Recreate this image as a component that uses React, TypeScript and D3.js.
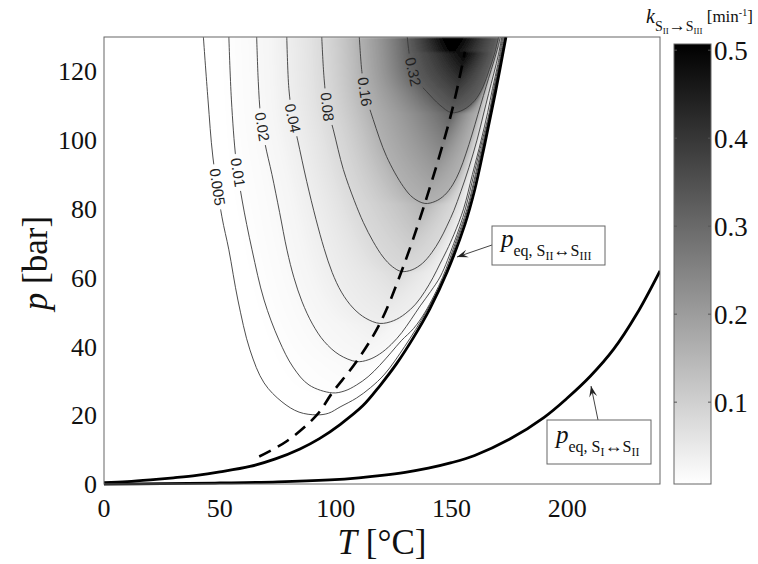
import React, { useEffect, useRef, useState } from 'react';
import * as d3 from 'd3';

type Pt = [number, number];

// ---------- data ----------
const T_TICKS = [0, 50, 100, 150, 200];
const P_TICKS = [0, 20, 40, 60, 80, 100, 120];
const CB_TICKS = [0.1, 0.2, 0.3, 0.4, 0.5];
const LEVELS = [0.005, 0.01, 0.02, 0.04, 0.08, 0.16, 0.32];
const LEVEL_LABELS = ['0.005', '0.01', '0.02', '0.04', '0.08', '0.16', '0.32'];
const LABEL_P = [86.4, 90.6, 103.9, 106.4, 109.7, 114.1, 119.9];

// contour lines [T, p]: left branch from the top, bottom, right branch up
const C_0005: Pt[] = [[42.9,130],[44.9,111.7],[47.0,95.1],[50.9,77.7],[53.9,68.1],[57.8,53.5],[63.0,39.0],[69.1,29.4],[76.8,23.9],[84.2,20.9],[91.9,20.1],[97,20.6],[101.9,22.4],[109,25],[115,28],[121.2,32],[129.8,40],[139,50],[146.6,60],[152.1,70],[157.1,80],[160.7,90],[164.2,100],[166.8,108],[168.75,115],[170.9,122],[173.2,130]];
const C_001: Pt[] = [[53.9,130],[55.0,111.7],[57.0,94.2],[59.6,82.6],[63.9,68.1],[69.1,53.5],[75.5,41.9],[81.6,34.0],[88.5,28.8],[98.5,26.5],[104,27.1],[109,28.8],[114,31.2],[119,34.5],[124,38.3],[128.5,41.8],[133.6,45.2],[138.6,50],[146.1,60],[151.6,70],[156.7,80],[160.3,90],[163.8,100],[166.6,108],[168.5,115],[170.7,122],[172.9,130]];
const C_002: Pt[] = [[65.9,130],[66.6,117],[67.6,107],[69.5,99],[72.5,90],[75.8,79],[79,68],[82,60],[85.5,53],[90,46.5],[95,41.5],[101.5,37.6],[109,35.6],[114,36.1],[119,37.8],[124,40.6],[128.5,44],[132.5,47.8],[136.5,51.8],[141,56],[145.3,60.5],[151.0,70],[156,80],[159.65,90],[163.3,100],[166.3,108],[168.2,115],[170.4,122],[172.5,130]];
const C_004: Pt[] = [[78.9,130],[79.8,115],[81.3,107],[83.6,100],[87.5,88],[91.5,77],[95,68.5],[98.5,61.5],[102.5,55.8],[107.5,51.2],[113,48.2],[119.1,46.7],[125,47.5],[130,49.5],[134.5,52.3],[138.5,56],[142,60],[145,64],[148,68],[151,72.5],[155.2,80],[159,90],[162.8,100],[165.6,108],[167.7,115],[170,122],[172.1,130]];
const C_008: Pt[] = [[94,130],[95,118],[96.4,109.7],[99,103],[103.3,91.5],[108,82.5],[112,76],[116.2,70.5],[120.5,66],[124.5,63.2],[128.4,61.8],[133,62.3],[137.5,64.2],[141.5,67.3],[145,71],[148,75],[151,79.5],[154,85],[157.5,92],[161,100],[163.6,107],[166,113.5],[168.3,119.5],[170.3,125],[171.7,130]];
const C_016: Pt[] = [[110.2,130],[111.3,120],[112.6,114.1],[116.2,106],[122,95.2],[129.2,86.5],[133.5,83.2],[138.5,81.6],[143,82.2],[147,84],[150.5,87],[153.5,91],[156.2,96],[158.8,101.5],[161.4,107.5],[163.8,113],[166,118],[168.3,123],[170.2,127.5],[171.1,130]];
const C_032: Pt[] = [[130.9,130],[132,124],[133.4,119.9],[136,116.6],[139.3,114.1],[145,110.2],[150,108],[155,108.8],[160,111.5],[163.6,115.5],[166.3,120.5],[168.5,125],[170.3,130]];
const CONTOURS: Pt[][] = [C_0005, C_001, C_002, C_004, C_008, C_016, C_032];

// equilibrium pressure curves [T, p]
const EQ_S2_S3: Pt[] = [[0,0.4],[10,0.7],[20,1.2],[30,1.8],[40,2.5],[50,3.5],[63,5.1],[74,7.3],[84.6,10.2],[93,13.2],[101.9,17.3],[111.8,22.8],[119,28.5],[126.3,35],[133.5,42.5],[140.7,51],[148,61.5],[155.8,75.5],[160,85.5],[164.4,99],[169,114],[173.5,130]];
const EQ_S1_S2: Pt[] = [[0,0],[25,0.1],[50,0.3],[75,0.6],[97.5,1.2],[110,1.8],[120,2.5],[130,3.4],[140,4.6],[150,6.2],[160,8.3],[175,13.0],[190,19.4],[200,25.0],[210,31.4],[220,39.2],[230,49.5],[240,62]];
// locus of maximum rate (dashed)
const K_MAX_LINE: Pt[] = [[67,8],[79,12.5],[91.9,20.1],[98.5,26.5],[109,35.6],[119.1,46.7],[128.4,61.8],[138.5,81.6],[150,108],[155.8,125.7]];

// ---------- layout ----------
const W = 758, H = 564;
const X0 = 104, X1 = 660, Y0 = 37, Y1 = 484;
const PW = X1 - X0, PH = Y1 - Y0;
const CB_X0 = 674, CB_X1 = 711, CB_Y0 = 44, CB_Y1 = 484;
const C_MIN = 0.007, C_MAX = 0.507;
const SERIF = "'Liberation Serif', 'Times New Roman', serif";
const SANS = "'Liberation Sans', Arial, sans-serif";

const xS = d3.scaleLinear().domain([0, 240]).range([0, PW]);
const yS = d3.scaleLinear().domain([0, 130]).range([PH, 0]);
const cbS = d3.scaleLinear().domain([C_MIN, C_MAX]).range([CB_Y1, CB_Y0]);

const grayOf = (k: number) => Math.max(0, Math.min(1, 1 - (k - C_MIN) / (C_MAX - C_MIN)));

const contourGen = d3.line<Pt>().x(d => xS(d[0])).y(d => yS(d[1])).curve(d3.curveCatmullRom.alpha(0.5));

function samplePath(path: SVGPathElement, step = 0.5): Pt[] {
  const L = path.getTotalLength();
  const pts: Pt[] = [];
  for (let s = 0; s < L; s += step) {
    const q = path.getPointAtLength(s);
    pts.push([q.x, q.y]);
  }
  const q = path.getPointAtLength(L);
  pts.push([q.x, q.y]);
  return pts;
}

function crossings(pts: Pt[], yc: number): number[] {
  const xs: number[] = [];
  for (let i = 0; i < pts.length - 1; i++) {
    const y1 = pts[i][1], y2 = pts[i + 1][1];
    if ((y1 - yc) * (y2 - yc) < 0 || (y1 === yc && y2 !== yc)) {
      const x1 = pts[i][0], x2 = pts[i + 1][0];
      xs.push(x1 + ((yc - y1) * (x2 - x1)) / (y2 - y1));
    }
  }
  return xs.sort((a, b) => a - b);
}

// peak (max over T) log k as function of p, from the bottoms of the contours
const BOTTOMS: Pt[] = CONTOURS.map((c, i) => [d3.min(c, d => d[1]) as number, Math.log(LEVELS[i])]);
function peakLog(p: number): number {
  const b = BOTTOMS;
  let i = 0;
  if (p <= b[0][0]) i = 0;
  else if (p >= b[b.length - 1][0]) i = b.length - 2;
  else { while (i < b.length - 2 && p > b[i + 1][0]) i++; }
  const [p0, v0] = b[i], [p1, v1] = b[i + 1];
  return v0 + ((p - p0) * (v1 - v0)) / (p1 - p0);
}

// label placement on the left branch of each contour
const LABELS = CONTOURS.map((c, i) => {
  const target = LABEL_P[i];
  let iMin = 0;
  c.forEach((d, j) => { if (d[1] < c[iMin][1]) iMin = j; });
  for (let j = 0; j < iMin; j++) {
    const a = c[j], b = c[j + 1];
    if (a[1] >= target && b[1] <= target) {
      const t = (a[1] - target) / (a[1] - b[1]);
      const T = a[0] + t * (b[0] - a[0]);
      const ang = (Math.atan2(yS(b[1]) - yS(a[1]), xS(b[0]) - xS(a[0])) * 180) / Math.PI;
      const txt = LEVEL_LABELS[i];
      const len = txt.split('').reduce((s, ch) => s + (ch === '.' ? 0.278 : 0.556), 0) * 15;
      return { x: xS(T), y: yS(target), ang, txt, len };
    }
  }
  return null;
});

function arrowHead(fx: number, fy: number, tx: number, ty: number, len = 11, wid = 8) {
  const dx = tx - fx, dy = ty - fy;
  const m = Math.hypot(dx, dy);
  const ux = dx / m, uy = dy / m;
  const nx = -uy, ny = ux;
  const bx = tx - ux * len, by = ty - uy * len;
  const cx = tx - ux * len * 0.6, cy = ty - uy * len * 0.6;
  return `M${tx},${ty}L${bx + nx * wid / 2},${by + ny * wid / 2}L${cx},${cy}L${bx - nx * wid / 2},${by - ny * wid / 2}Z`;
}

export default function App() {
  const contourRefs = useRef<(SVGPathElement | null)[]>([]);
  const eqRef = useRef<SVGPathElement | null>(null);
  const dashRef = useRef<SVGPathElement | null>(null);
  const [img, setImg] = useState<string | null>(null);

  useEffect(() => {
    const cps = contourRefs.current.map(p => (p ? samplePath(p) : []));
    const eqPts = eqRef.current ? samplePath(eqRef.current) : [];
    const dashPts = dashRef.current ? samplePath(dashRef.current) : [];
    const logL = LEVELS.map(Math.log);
    const canvas = document.createElement('canvas');
    canvas.width = PW; canvas.height = PH;
    const ctx = canvas.getContext('2d');
    if (!ctx) return;
    const im = ctx.createImageData(PW, PH);
    const data = im.data;
    for (let r = 0; r < PH; r++) {
      const yc = r + 0.5;
      const p = yS.invert(yc);
      const ex = crossings(eqPts, yc);
      const xEq = ex.length ? ex[0] : PW;
      const left: Pt[] = [], right: Pt[] = [];
      cps.forEach((pts, i) => {
        const xs = crossings(pts, yc);
        if (xs.length >= 2) { left.push([xs[0], logL[i]]); right.push([xs[xs.length - 1], logL[i]]); }
      });
      const kp = peakLog(p);
      let xp: number | null = null;
      const dxs = crossings(dashPts, yc);
      if (dxs.length) xp = dxs[0];
      else if (left.length) xp = (left[left.length - 1][0] + right[right.length - 1][0]) / 2;
      const knots: Pt[] = [[0, Math.min(Math.log(1e-3), kp - 1)]];
      left.forEach(k => knots.push(k));
      if (xp !== null) {
        const lo = left.length ? left[left.length - 1][0] : 0;
        const hi = right.length ? right[right.length - 1][0] : xEq;
        const xpp = Math.min(Math.max(xp, lo + 0.5), hi - 0.5);
        const kpp = left.length ? Math.max(kp, left[left.length - 1][1]) : kp;
        knots.push([xpp, kpp]);
      }
      for (let j = right.length - 1; j >= 0; j--) knots.push(right[j]);
      knots.push([xEq, Math.log(1e-4)]);
      for (let i = 1; i < knots.length; i++) if (knots[i][0] < knots[i - 1][0]) knots[i][0] = knots[i - 1][0];
      let seg = 0;
      for (let c = 0; c < PW; c++) {
        const xc = c + 0.5;
        let g = 1;
        if (xc < xEq) {
          while (seg < knots.length - 2 && xc > knots[seg + 1][0]) seg++;
          const [xa, va] = knots[seg], [xb, vb] = knots[seg + 1];
          let t = xb > xa ? (xc - xa) / (xb - xa) : 0;
          t = Math.max(0, Math.min(1, t));
          g = grayOf(Math.exp(va + (vb - va) * t));
        }
        const idx = (r * PW + c) * 4;
        const gv = Math.round(g * 255);
        data[idx] = gv; data[idx + 1] = gv; data[idx + 2] = gv; data[idx + 3] = 255;
      }
    }
    ctx.putImageData(im, 0, 0);
    setImg(canvas.toDataURL());
  }, []);

  const a1from: Pt = [492, 245], a1to: Pt = [457, 257];
  const a2from: Pt = [598, 420], a2to: Pt = [591, 386];

  return (
    <svg width={W} height={H} style={{ position: 'absolute', left: 0, top: 0, background: '#fff' }} fontFamily={SERIF}>
      <defs>
        <clipPath id="plotClip"><rect x={-2} y={0} width={PW + 2} height={PH + 2} /></clipPath>
        <clipPath id="imgClip"><rect x={0} y={0} width={PW} height={PH} /></clipPath>
        <filter id="soft" x="0" y="0" width="1" height="1">
          <feGaussianBlur stdDeviation="1.2" />
        </filter>
        <mask id="labelMask" maskUnits="userSpaceOnUse" x={-10} y={-10} width={PW + 20} height={PH + 20}>
          <rect x={-10} y={-10} width={PW + 20} height={PH + 20} fill="#fff" />
          {LABELS.map((l, i) => l && (
            <rect key={i} transform={`translate(${l.x},${l.y}) rotate(${l.ang})`} x={-(l.len + 8) / 2} y={-6} width={l.len + 8} height={12} fill="#000" />
          ))}
        </mask>
        <linearGradient id="cbGrad" x1="0" y1="1" x2="0" y2="0">
          <stop offset="0" stopColor="#ffffff" />
          <stop offset="1" stopColor="#000000" />
        </linearGradient>
      </defs>
      <rect x={0} y={0} width={W} height={H} fill="#fff" />

      <g transform={`translate(${X0},${Y0})`}>
        {img && (
          <g clipPath="url(#imgClip)">
            <image href={img} x={0} y={0} width={PW} height={PH} preserveAspectRatio="none" filter="url(#soft)" />
          </g>
        )}
        <g clipPath="url(#plotClip)">
          <g mask="url(#labelMask)">
            {CONTOURS.map((c, i) => (
              <path key={i} ref={el => { contourRefs.current[i] = el; }} d={contourGen(c) || ''} fill="none" stroke="#3a3a3a" strokeWidth={0.9} />
            ))}
          </g>
          {LABELS.map((l, i) => l && (
            <text key={i} transform={`translate(${l.x},${l.y}) rotate(${l.ang})`} textAnchor="middle" dy="0.35em" fontFamily={SANS} fontSize={15} fill="#222">{l.txt}</text>
          ))}
          <path ref={dashRef} d={contourGen(K_MAX_LINE) || ''} fill="none" stroke="#000" strokeWidth={2.6} strokeDasharray="13 8" />
          <path ref={eqRef} d={contourGen(EQ_S2_S3) || ''} fill="none" stroke="#000" strokeWidth={2.8} />
          <path d={contourGen(EQ_S1_S2) || ''} fill="none" stroke="#000" strokeWidth={2.8} />
        </g>
        <rect x={0} y={0} width={PW} height={PH} fill="none" stroke="#666" strokeWidth={1} />
      </g>

      {/* tick labels */}
      {T_TICKS.map(t => (
        <text key={t} x={X0 + xS(t)} y={517} textAnchor="middle" fontSize={26} fill="#111">{t}</text>
      ))}
      {P_TICKS.map(p => (
        <text key={p} x={97} y={Y0 + yS(p)} dy="0.35em" textAnchor="end" fontSize={26} fill="#111">{p}</text>
      ))}
      <text x={382} y={554} textAnchor="middle" fontSize={35} fill="#111"><tspan fontStyle="italic">T</tspan> [°C]</text>
      <text transform="translate(47,263) rotate(-90)" textAnchor="middle" fontSize={35} fill="#111"><tspan fontStyle="italic">p</tspan> [bar]</text>

      {/* annotation 1 */}
      <line x1={a1from[0]} y1={a1from[1]} x2={a1to[0]} y2={a1to[1]} stroke="#444" strokeWidth={1} />
      <path d={arrowHead(a1from[0], a1from[1], a1to[0], a1to[1])} fill="#222" />
      <rect x={492} y={226} width={113} height={39} fill="#fff" stroke="#666" strokeWidth={1} />
      <text x={501} y={247} fill="#111">
        <tspan fontStyle="italic" fontSize={25}>p</tspan>
        <tspan fontSize={16} dy={9}>eq, S</tspan>
        <tspan fontSize={12} dy={4}>II</tspan>
        <tspan fontSize={17} dy={-4}>↔</tspan>
        <tspan fontSize={16}>S</tspan>
        <tspan fontSize={12} dy={4}>III</tspan>
      </text>

      {/* annotation 2 */}
      <line x1={a2from[0]} y1={a2from[1]} x2={a2to[0]} y2={a2to[1]} stroke="#444" strokeWidth={1} />
      <path d={arrowHead(a2from[0], a2from[1], a2to[0], a2to[1])} fill="#222" />
      <rect x={547} y={420} width={104} height={44} fill="#fff" stroke="#666" strokeWidth={1} />
      <text x={556} y={443} fill="#111">
        <tspan fontStyle="italic" fontSize={25}>p</tspan>
        <tspan fontSize={16} dy={9}>eq, S</tspan>
        <tspan fontSize={12} dy={4}>I</tspan>
        <tspan fontSize={18} dy={-4}>↔</tspan>
        <tspan fontSize={16}>S</tspan>
        <tspan fontSize={12} dy={4}>II</tspan>
      </text>

      {/* colorbar */}
      <rect x={CB_X0} y={CB_Y0} width={CB_X1 - CB_X0} height={CB_Y1 - CB_Y0} fill="url(#cbGrad)" stroke="#666" strokeWidth={1} />
      {CB_TICKS.map(v => (
        <g key={v}>
          <line x1={CB_X0} x2={CB_X0 + 3} y1={cbS(v)} y2={cbS(v)} stroke="#555" />
          <line x1={CB_X1 - 3} x2={CB_X1} y1={cbS(v)} y2={cbS(v)} stroke="#555" />
          <text x={714} y={cbS(v)} dy="0.35em" fontSize={27} fill="#111">{v.toFixed(1)}</text>
        </g>
      ))}
      <text x={646} y={23} fill="#111">
        <tspan fontStyle="italic" fontSize={20}>k</tspan>
        <tspan fontSize={14} dy={8}>S</tspan>
        <tspan fontSize={9} dy={3}>II</tspan>
        <tspan fontSize={17} dy={-3}>→</tspan>
        <tspan fontSize={14}>S</tspan>
        <tspan fontSize={9} dy={3}>III</tspan>
        <tspan fontSize={17} dy={-12}> [min</tspan>
        <tspan fontSize={10} dy={-6}>-1</tspan>
        <tspan fontSize={17} dy={6}>]</tspan>
      </text>
    </svg>
  );
}
